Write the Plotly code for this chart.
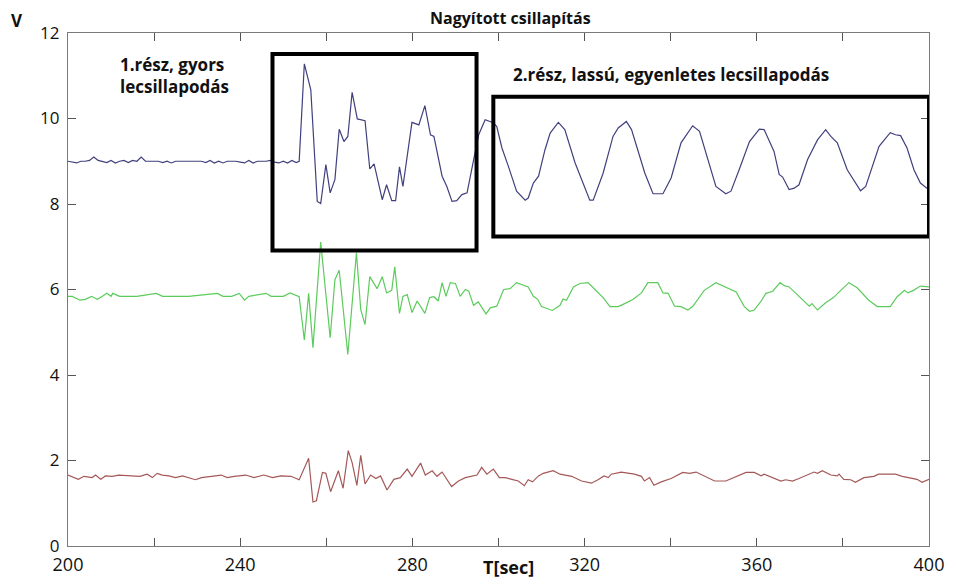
import plotly.graph_objects as go

# --- channel 1 (upper, blue) ---------------------------------------------
blue_t = [200, 201, 202, 203, 204, 205, 206, 207, 208, 209, 210, 211, 212, 213, 214, 215,
          216, 217, 218, 219, 220, 221, 222, 223, 224, 225, 226, 227, 228, 229, 230, 231,
          232, 233, 234, 235, 236, 237, 238, 239, 240, 241, 242, 243, 244, 245, 246, 247,
          248, 249, 250, 251, 252, 253, 253.7,
          254.9, 255.6, 256.4, 257.9, 258.7, 259.9, 260.9, 262.0, 263.0, 264.1, 265.0, 266.0,
          267.2, 269.0, 270.1, 271.1, 273.0, 274.0, 275.2, 276.1, 277.0, 277.8, 279.9, 281.5,
          282.9, 284.2, 285.0, 286.9, 288.0, 289.2, 290.3, 291.5, 292.7, 294.0, 295.4, 296.9,
          298.8, 299.6, 300.8, 302.3, 304.2, 306.2, 306.9, 308.1, 309.3, 310.8, 312.0, 313.9,
          315.4, 317.8, 321.2, 322.0, 324.3, 326.6, 327.8, 329.7, 330.9, 334.0, 335.9, 338.2,
          340.1, 342.4, 345.1, 346.7, 350.5, 352.8, 354.0, 355.9, 358.3, 360.6, 361.7, 364.0,
          365.2, 366.0, 367.5, 368.7, 369.8, 371.8, 374.1, 376.0, 377.2, 378.7, 381.0, 384.1,
          385.3, 388.4, 391.0, 392.2, 393.4, 394.9, 396.5, 398.0, 399.5, 400.0]
blue_v = [9.00, 8.98, 8.96, 9.00, 9.00, 9.02, 9.10, 9.02, 9.00, 8.97, 9.02, 8.96, 9.00, 9.02, 8.97, 9.02,
          9.00, 9.10, 9.00, 9.00, 9.00, 9.00, 8.97, 9.00, 8.96, 9.00, 9.00, 9.00, 9.00, 9.00, 9.00, 9.00,
          8.97, 9.02, 8.96, 9.00, 8.96, 9.00, 9.00, 9.00, 8.98, 8.96, 9.02, 8.96, 9.00, 9.00, 9.00, 9.02,
          8.98, 8.96, 9.00, 8.96, 9.02, 8.97, 9.00,
          11.28, 10.98, 10.67, 8.06, 8.01, 8.92, 8.26, 8.57, 9.75, 9.46, 9.58, 10.61,
          9.99, 9.95, 8.82, 8.94, 8.10, 8.45, 8.08, 8.08, 8.87, 8.41, 9.91, 9.85,
          10.30, 9.62, 9.58, 8.65, 8.41, 8.06, 8.08, 8.22, 8.26, 8.92, 9.62, 9.97,
          9.90, 9.81, 9.31, 8.88, 8.30, 8.09, 8.14, 8.49, 8.65, 9.27, 9.66, 9.91,
          9.74, 8.96, 8.09, 8.09, 8.72, 9.58, 9.78, 9.93, 9.74, 8.72, 8.24, 8.24,
          8.61, 9.43, 9.83, 9.70, 8.41, 8.24, 8.30, 8.80, 9.46, 9.75, 9.74, 9.23,
          8.69, 8.63, 8.34, 8.37, 8.45, 9.04, 9.50, 9.74, 9.58, 9.43, 8.80, 8.31,
          8.41, 9.35, 9.67, 9.62, 9.60, 9.31, 8.80, 8.49, 8.37, 8.36]

# --- channel 2 (middle, green) -------------------------------------------
green_t = [200, 201, 202.8, 204, 205.5, 206.8, 208, 209, 210, 210.4, 212, 216, 220.5, 222,
           228, 234.7, 236, 238, 239.8, 241, 242, 246, 247.2, 250, 251.6, 253.7,
           254.9, 255.9, 256.9, 258.7, 260.9, 262.0, 263.0, 265.0, 267.0, 268.0, 269.0, 270.1,
           271.8, 273.0, 274.0, 275.2, 275.9, 277.0, 277.8, 278.8, 279.9, 281.1, 282.9, 284.0,
           285.0, 286.0, 286.9, 287.8, 288.8, 290.0, 291.1, 292.3, 293.1, 294.2, 295.3, 297.1,
           298.1, 299.6, 301.2, 302.7, 304.2, 306.2, 306.9, 308.1, 309.1, 310.0, 312.5, 314.3,
           315.0, 315.8, 317.4, 318.9, 320.8, 322.0, 324.3, 325.9, 327.8, 329.3, 331.3, 333.2,
           334.7, 337.0, 338.2, 339.4, 340.9, 342.4, 344.0, 345.1, 347.8, 350.5, 352.8, 355.2,
           357.1, 358.3, 359.4, 361.0, 362.1, 363.7, 365.4, 366.4, 367.5, 369.1, 370.6, 372.2,
           372.8, 374.1, 376.0, 377.8, 379.5, 381.4, 383.3, 386.0, 388.0, 391.0, 392.6, 394.3,
           395.1, 396.4, 398.0, 399.5, 400.0]
green_v = [5.84, 5.84, 5.75, 5.77, 5.84, 5.77, 5.84, 5.91, 5.84, 5.91, 5.84, 5.84, 5.91, 5.84,
           5.84, 5.91, 5.84, 5.84, 5.91, 5.75, 5.84, 5.91, 5.84, 5.84, 5.92, 5.83,
           4.82, 5.91, 4.64, 7.11, 4.87, 6.23, 6.45, 4.48, 6.86, 5.53, 5.18, 6.30,
           6.02, 6.30, 5.92, 5.98, 6.53, 5.44, 5.84, 5.88, 5.46, 5.73, 5.44, 5.81,
           5.83, 5.73, 6.16, 5.84, 6.16, 6.14, 5.84, 6.00, 5.96, 5.63, 5.71, 5.43,
           5.57, 5.61, 6.00, 6.02, 6.16, 6.09, 6.06, 5.84, 5.77, 5.60, 5.51, 5.63,
           5.78, 5.75, 6.06, 6.14, 6.16, 6.04, 5.81, 5.60, 5.60, 5.67, 5.77, 5.92,
           6.16, 6.16, 5.92, 5.91, 5.61, 5.60, 5.52, 5.60, 5.98, 6.16, 6.06, 5.94,
           5.60, 5.49, 5.52, 5.73, 5.91, 5.96, 6.16, 6.09, 6.06, 5.91, 5.77, 5.61,
           5.67, 5.52, 5.69, 5.81, 5.98, 6.16, 6.04, 5.75, 5.60, 5.60, 5.83, 5.98,
           5.92, 5.98, 6.08, 6.06, 6.06]

# --- channel 3 (lower, red) ----------------------------------------------
red_t = [200, 202.4, 203.7, 205.6, 206.4, 207.6, 208.7, 210.3, 211.8, 216.7, 218.4, 219.6,
         220.7, 221.9, 223.4, 225.0, 226.6, 228.0, 229.6, 231.0, 234.0, 235.6, 237.0, 238.6,
         241.3, 243.2, 245.5, 247.5, 249.4, 251.8, 253.7,
         255.9, 256.9, 257.7, 259.1, 259.9, 261.0, 262.8, 263.9, 265.1, 266.0, 267.1, 268.0,
         269.0, 270.3, 271.5, 272.6, 274.1, 275.7, 277.2, 278.8, 279.9, 281.9, 283.0, 284.6,
         285.7, 286.9, 289.1, 290.7, 292.3, 295.0, 296.1, 297.3, 298.8, 300.2, 301.6, 303.1,
         304.6, 306.0, 306.9, 307.9, 309.3, 310.4, 312.7, 314.3, 317.0, 319.3, 321.6, 323.1,
         324.5, 325.5, 326.2, 328.5, 331.6, 333.2, 333.9, 335.1, 336.1, 337.8, 340.1, 342.8,
         344.4, 345.9, 347.8, 350.2, 352.8, 355.2, 357.5, 359.4, 361.0, 361.7, 363.7, 365.6,
         366.7, 368.3, 369.8, 372.1, 373.3, 374.1, 375.2, 377.2, 378.7, 379.1, 380.2, 381.8,
         382.9, 384.9, 387.2, 388.3, 392.2, 393.8, 395.7, 397.2, 398.4, 400.0]
red_v = [1.66, 1.56, 1.63, 1.60, 1.66, 1.56, 1.64, 1.63, 1.66, 1.63, 1.68, 1.60,
         1.70, 1.66, 1.64, 1.60, 1.64, 1.60, 1.55, 1.60, 1.63, 1.66, 1.60, 1.63,
         1.66, 1.60, 1.66, 1.60, 1.64, 1.63, 1.55,
         2.05, 1.03, 1.06, 1.72, 1.70, 1.27, 1.76, 1.35, 2.23, 1.95, 1.42, 2.12,
         1.45, 1.66, 1.58, 1.64, 1.31, 1.56, 1.60, 1.80, 1.63, 1.94, 1.66, 1.76,
         1.63, 1.73, 1.39, 1.52, 1.60, 1.66, 1.84, 1.68, 1.80, 1.60, 1.60, 1.56,
         1.52, 1.41, 1.55, 1.50, 1.64, 1.70, 1.76, 1.68, 1.63, 1.52, 1.47, 1.55,
         1.64, 1.60, 1.68, 1.73, 1.68, 1.63, 1.52, 1.60, 1.42, 1.50, 1.58, 1.72,
         1.70, 1.73, 1.63, 1.52, 1.52, 1.63, 1.72, 1.72, 1.64, 1.68, 1.60, 1.52,
         1.55, 1.52, 1.58, 1.68, 1.73, 1.70, 1.76, 1.66, 1.64, 1.68, 1.56, 1.55,
         1.49, 1.60, 1.63, 1.68, 1.68, 1.63, 1.60, 1.56, 1.49, 1.56]

# axis ticks
x_ticks = [200, 220, 240, 260, 280, 300, 320, 340, 360, 380, 400]
x_labels = ["200", "", "240", "", "280", "", "320", "", "360", "", "400"]
y_ticks = [0, 2, 4, 6, 8, 10, 12]

# highlighted sections: (t0, t1, v0, v1)
section_fast = (247.5, 294.9, 6.91, 11.51)
section_slow = (298.8, 400.0, 7.24, 10.51)

FONT = "Open Sans"

fig = go.Figure()
fig.add_trace(go.Scatter(x=blue_t, y=blue_v, mode="lines",
                         line=dict(color="#40407e", width=1.2), showlegend=False))
fig.add_trace(go.Scatter(x=green_t, y=green_v, mode="lines",
                         line=dict(color="#5ccb5c", width=1.2), showlegend=False))
fig.add_trace(go.Scatter(x=red_t, y=red_v, mode="lines",
                         line=dict(color="#a55858", width=1.2), showlegend=False))

for t0, t1, v0, v1 in (section_fast, section_slow):
    fig.add_shape(type="rect", xref="x", yref="y", x0=t0, x1=t1, y0=v0, y1=v1,
                  line=dict(color="black", width=4), fillcolor="rgba(0,0,0,0)", layer="above")

bold = dict(family=FONT, size=17, color="#111111", weight="bold")

fig.add_annotation(text="1.rész, gyors<br>lecsillapodás", x=211.6, y=11.0, xref="x", yref="y",
                   xanchor="left", yanchor="middle", align="left", showarrow=False, font=bold)
fig.add_annotation(text="2.rész, lassú, egyenletes lecsillapodás", x=303.0, y=11.02,
                   xref="x", yref="y", xanchor="left", yanchor="middle", showarrow=False, font=bold)
fig.add_annotation(text="Nagyított csillapítás", x=0.514, y=1, xref="paper", yref="paper",
                   xanchor="center", yanchor="middle", yshift=15, showarrow=False,
                   font=dict(family=FONT, size=16, color="#111111", weight="bold"))
fig.add_annotation(text="V", x=-0.059, y=1, xref="paper", yref="paper",
                   xanchor="center", yanchor="middle", yshift=13, showarrow=False,
                   font=dict(family=FONT, size=17, color="#111111", weight="bold"))
fig.add_annotation(text="T[sec]", x=302.3, y=0, xref="x", yref="paper",
                   xanchor="center", yanchor="top", yshift=-7, showarrow=False,
                   font=dict(family=FONT, size=18, color="#111111", weight="bold"))

axis_common = dict(showgrid=False, zeroline=False, showline=True, linecolor="#7a7a7a",
                   linewidth=1.3, mirror="ticks", ticks="inside", ticklen=8,
                   tickcolor="#555555", tickwidth=1.2)

fig.update_layout(
    width=956, height=588,
    margin=dict(l=68, r=24, t=33, b=41),
    paper_bgcolor="white", plot_bgcolor="white",
    xaxis=dict(range=[200, 400], tickvals=x_ticks, ticktext=x_labels, ticklabelstandoff=2,
               tickfont=dict(family=FONT, size=18, color="#111111"), **axis_common),
    yaxis=dict(range=[0, 12], tickvals=y_ticks, ticklabelstandoff=4,
               tickfont=dict(family=FONT, size=17, color="#111111"), **axis_common),
)

fig.write_html("out.html")
